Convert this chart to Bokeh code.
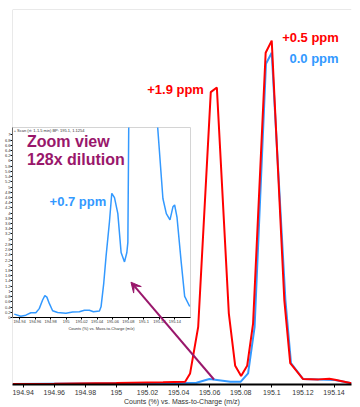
from bokeh.plotting import figure
from bokeh.models import FixedTicker, Label, Arrow, VeeHead, Span, Range1d
from bokeh.layouts import column
from bokeh.embed import file_html
from bokeh.resources import INLINE

# ---------------- data ----------------
x_ticks = [194.94, 194.96, 194.98, 195.0, 195.02, 195.04, 195.06, 195.08, 195.1, 195.12, 195.14]
x_tick_labels = ["194.94", "194.96", "194.98", "195", "195.02", "195.04", "195.06",
                 "195.08", "195.1", "195.12", "195.14"]

red_mz = [194.9331, 194.96, 195.00, 195.03, 195.0442, 195.0474, 195.0526, 195.0607, 195.0646,
          195.0723, 195.0764, 195.0802, 195.0841, 195.0879, 195.0960, 195.0999, 195.1080,
          195.1118, 195.1201, 195.1300, 195.1370, 195.1406, 195.1512]
red_pct = [0.0, 0.1, 0.3, 0.5, 0.7, 3.2, 17.3, 88.3, 89.7, 21.4, 5.5, 2.4, 5.5, 18.3, 100.2,
           103.9, 25.4, 6.3, 1.5, 1.4, 1.6, 1.3, 0.2]

blue_mz = [194.9331, 195.00, 195.04, 195.0515, 195.0598, 195.0733, 195.0800, 195.0847, 195.0889,
           195.0962, 195.0999, 195.1087, 195.1123, 195.1201, 195.1300, 195.1406, 195.1512]
blue_pct = [0.0, 0.2, 0.3, 0.4, 1.5, 0.7, 0.7, 3.2, 17.3, 96.9, 100.2, 25.4, 6.3, 1.5, 1.4, 1.2, 0.2]

inset_mz = [194.9332, 194.9417, 194.9481, 194.9546, 194.9610, 194.9654, 194.9697, 194.9726,
            194.9752, 194.9783, 194.9826, 194.9890, 194.9997, 195.0084, 195.0170, 195.0235,
            195.0299, 195.0351, 195.0428, 195.0449, 195.0484, 195.0514, 195.0557, 195.0587,
            195.0622, 195.0665, 195.0707, 195.0751, 195.0781, 195.0794, 195.0830, 195.0962,
            195.0999, 195.1087, 195.1160, 195.1245, 195.1289, 195.1336, 195.1374, 195.1396,
            195.1426, 195.1481, 195.1525, 195.1590]
inset_pct = [0.13, 0.05, 0.09, 0.18, 0.18, 0.34, 0.67, 0.84, 0.78, 0.54, 0.26, 0.19, 0.16, 0.21,
             0.22, 0.28, 0.28, 0.22, 0.25, 0.41, 1.32, 2.36, 3.66, 4.76, 4.59, 3.98, 2.49, 2.13,
             2.49, 2.88, 17.0, 96.9, 100.2, 25.4, 8.0, 4.56, 3.98, 3.74, 4.24, 4.31, 3.85, 2.10,
             0.81, 0.42]

inset_y_ticks = [0, 0.2, 0.4, 0.6, 0.8, 1, 1.2, 1.4, 1.6, 1.8, 2, 2.2, 2.4, 2.6, 2.8, 3, 3.2,
                 3.4, 3.6, 3.8, 4, 4.2, 4.4, 4.6, 4.8, 5, 5.2, 5.4, 5.6, 5.8, 6, 6.2, 6.4, 6.6,
                 6.8, 7]
inset_y_tick_labels = ["0", "0.2", "0.4", "0.6", "0.8", "1", "1.2", "1.4", "1.6", "1.8", "2",
                       "2.2", "2.4", "2.6", "2.8", "3", "3.2", "3.4", "3.6", "3.8", "4", "4.2",
                       "4.4", "4.6", "4.8", "5", "5.2", "5.4", "5.6", "5.8", "6", "6.2", "6.4",
                       "6.6", "6.8", "7"]

# ---------------- styles ----------------
RED = "#ff0000"
BLUE = "#3399ff"
PURPLE = "#99176b"
FONT = "Liberation Sans"
AXIS_TITLE = "Counts (%) vs. Mass-to-Charge (m/z)"

X0, X1 = 194.93315, 195.15122
Y0, Y1 = -0.15, 113.3
IX0, IX1 = 194.93097, 195.1600
IY0, IY1 = 0.0, 7.28

INSET_H = 206

# ---------------- inset ----------------
inset = figure(width=191, height=INSET_H, output_backend="svg", toolbar_location=None,
               x_range=Range1d(IX0, IX1), y_range=Range1d(IY0, IY1),
               min_border_left=12, min_border_right=1, min_border_top=0, min_border_bottom=0)
inset.background_fill_color = None
inset.border_fill_color = None
inset.outline_line_color = "#d4d4d4"
inset.grid.visible = False
inset.line(inset_mz, inset_pct, line_color=BLUE, line_width=1.5)

ix = inset.xaxis[0]
ix.ticker = FixedTicker(ticks=x_ticks)
ix.major_label_overrides = {t: l for t, l in zip(x_ticks, x_tick_labels)}
ix.axis_label = AXIS_TITLE
for ax in (inset.xaxis[0], inset.yaxis[0]):
    ax.axis_line_color = "black"
    ax.axis_line_width = 1
    ax.major_tick_out = 2
    ax.major_tick_in = 0
    ax.minor_tick_line_color = None
    ax.major_label_text_font_size = "4px"
    ax.major_label_text_font = FONT
    ax.major_label_text_color = "#333333"
    ax.major_label_standoff = 0
    ax.axis_label_text_font_size = "4px"
    ax.axis_label_text_font = FONT
    ax.axis_label_text_font_style = "normal"
    ax.axis_label_text_color = "#333333"
    ax.axis_label_standoff = 0
iy = inset.yaxis[0]
iy.ticker = FixedTicker(ticks=inset_y_ticks)
iy.major_label_overrides = {t: l for t, l in zip(inset_y_ticks, inset_y_tick_labels)}

inset.add_layout(Label(x=IX0 + 0.0015, y=7.16, text="+ Scan (rt: 1-1.5 min) BP: 195.1, 1.1254",
                       text_font=FONT, text_font_size="4px", text_color="#333333",
                       text_baseline="middle"))
inset.margin = (127, 0, 0, 0)

# ---------------- main ----------------
main = figure(width=352, height=399, output_backend="svg", toolbar_location=None,
              x_range=Range1d(X0, X1), y_range=Range1d(Y0, Y1), y_axis_location=None,
              min_border_left=2, min_border_right=0, min_border_top=1, min_border_bottom=0)
main.background_fill_color = None
main.border_fill_color = None
main.outline_line_color = None
main.grid.visible = False

main.add_layout(Span(location=X0, dimension="height", line_color="#d4d4d4", line_width=1))
main.add_layout(Span(location=Y1, dimension="width", line_color="#d4d4d4", line_width=1))

main.line(blue_mz, blue_pct, line_color=BLUE, line_width=2)
main.line(red_mz, red_pct, line_color=RED, line_width=2)

mx = main.xaxis[0]
mx.ticker = FixedTicker(ticks=x_ticks)
mx.major_label_overrides = {t: l for t, l in zip(x_ticks, x_tick_labels)}
mx.axis_label = AXIS_TITLE
mx.axis_line_color = "black"
mx.axis_line_width = 2
mx.major_tick_out = 3
mx.major_tick_in = 0
mx.major_tick_line_color = "black"
mx.minor_tick_line_color = None
mx.major_label_text_font_size = "7px"
mx.major_label_text_font = FONT
mx.major_label_text_color = "#333333"
mx.major_label_standoff = 2
mx.axis_label_text_font_size = "7px"
mx.axis_label_text_font = FONT
mx.axis_label_text_font_style = "normal"
mx.axis_label_text_color = "#333333"
mx.axis_label_standoff = 0

def lab(x, y, text, color, size):
    main.add_layout(Label(x=x, y=y, text=text, text_color=color, text_font=FONT,
                          text_font_style="bold", text_font_size=size,
                          text_baseline="middle", text_align="left"))

lab(195.1066, 104.7, "+0.5 ppm", RED, "13px")
lab(195.1113, 98.4, "0.0 ppm", BLUE, "13px")
lab(195.0198, 89.0, "+1.9 ppm", RED, "13px")
lab(194.9425, 73.5, "Zoom view", PURPLE, "16px")
lab(194.9425, 67.8, "128x dilution", PURPLE, "16px")
lab(194.9570, 55.2, "+0.7 ppm", BLUE, "13px")

main.add_layout(Arrow(x_start=195.06275, y_start=1.36, x_end=195.00935, y_end=30.8,
                      line_color=PURPLE, line_width=2,
                      end=VeeHead(size=10, fill_color=PURPLE, line_color=PURPLE, line_width=1)))
main.margin = (8 - 127 - INSET_H, 0, 0, 0)

layout = column(inset, main)

open("out.html", "w").write(file_html(layout, INLINE))
